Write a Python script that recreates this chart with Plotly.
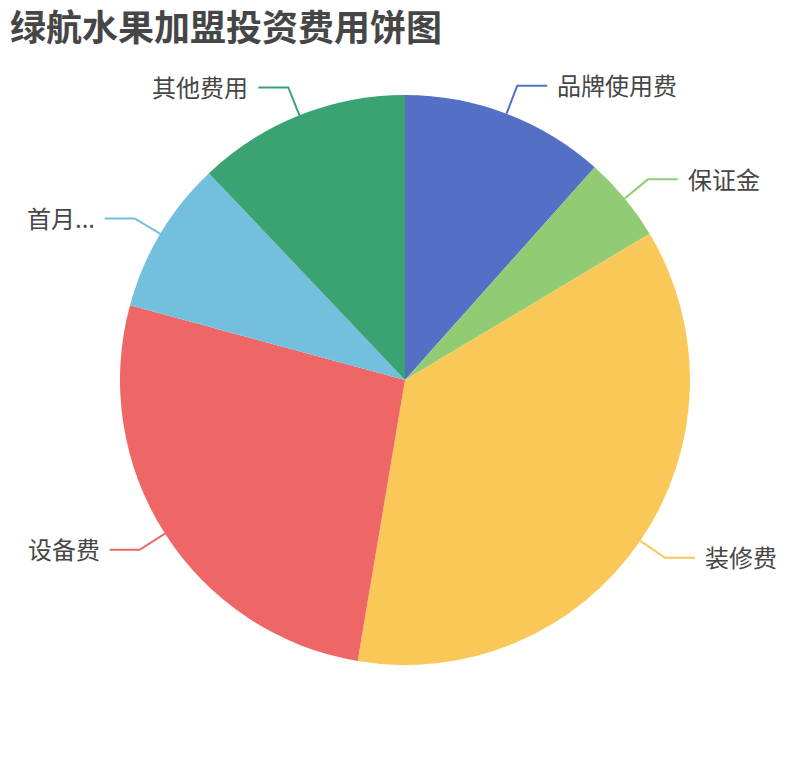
import math
import plotly.graph_objects as go

# 饼图数据（元）
labels = ["品牌使用费", "保证金", "装修费", "设备费", "首月...", "其他费用"]
values = [24000, 10000, 75000, 55000, 18000, 25000]
colors = ["#5470c6", "#91cc75", "#fac858", "#ee6666", "#73c0de", "#3ba272"]

OFF = 8  # 页面 body 默认边距
W, H = 810 - 2 * OFF, 760 - 2 * OFF
CX, CY, R = 405 - OFF, 380 - OFF, 285
LEN1, LEN2 = 30, 30
FONT = "Noto Sans CJK SC"


def main():
    fig = go.Figure()
    fig.add_trace(go.Pie(
        labels=labels, values=values, sort=False,
        direction="clockwise", rotation=0,
        marker=dict(colors=colors, line=dict(width=0)),
        textinfo="none", showlegend=False,
        hoverinfo="label+value+percent",
        domain=dict(x=[(CX - R) / W, (CX + R) / W],
                    y=[1 - (CY + R) / H, 1 - (CY - R) / H]),
    ))

    # 引导线 + 标签（按数据计算角度）
    total = sum(values)
    cum = 0
    annots = []
    for lab, v, c in zip(labels, values, colors):
        mid = (cum + v / 2) / total * 2 * math.pi
        cum += v
        s, co = math.sin(mid), math.cos(mid)
        sx, sy = CX + R * s, CY - R * co
        kx, ky = CX + (R + LEN1) * s, CY - (R + LEN1) * co
        side = 1 if s >= 0 else -1
        ex = kx + side * LEN2
        fig.add_trace(go.Scatter(
            x=[sx, kx, ex], y=[sy, ky, ky], mode="lines",
            line=dict(color=c, width=2), hoverinfo="skip", showlegend=False,
        ))
        annots.append(dict(
            x=ex + side * 8, y=ky - 1, xref="x", yref="y", text=lab, showarrow=False,
            xanchor="left" if side > 0 else "right", yanchor="middle",
            font=dict(family=FONT, size=24, color="#464646"),
        ))

    fig.update_layout(
        width=W, height=H,
        margin=dict(l=0, r=0, t=0, b=0),
        paper_bgcolor="white", plot_bgcolor="white",
        xaxis=dict(range=[0, W], visible=False, fixedrange=True),
        yaxis=dict(range=[H, 0], visible=False, fixedrange=True),
        title=dict(text="<b>绿航水果加盟投资费用饼图</b>", xref="container", yref="container",
                   x=(10 - OFF) / W, y=1 - (28 - OFF) / H, xanchor="left", yanchor="middle",
                   font=dict(family=FONT, size=36, color="#464646")),
        annotations=annots,
    )
    fig.write_html("out.html")


if __name__ == '__main__':
    main()
